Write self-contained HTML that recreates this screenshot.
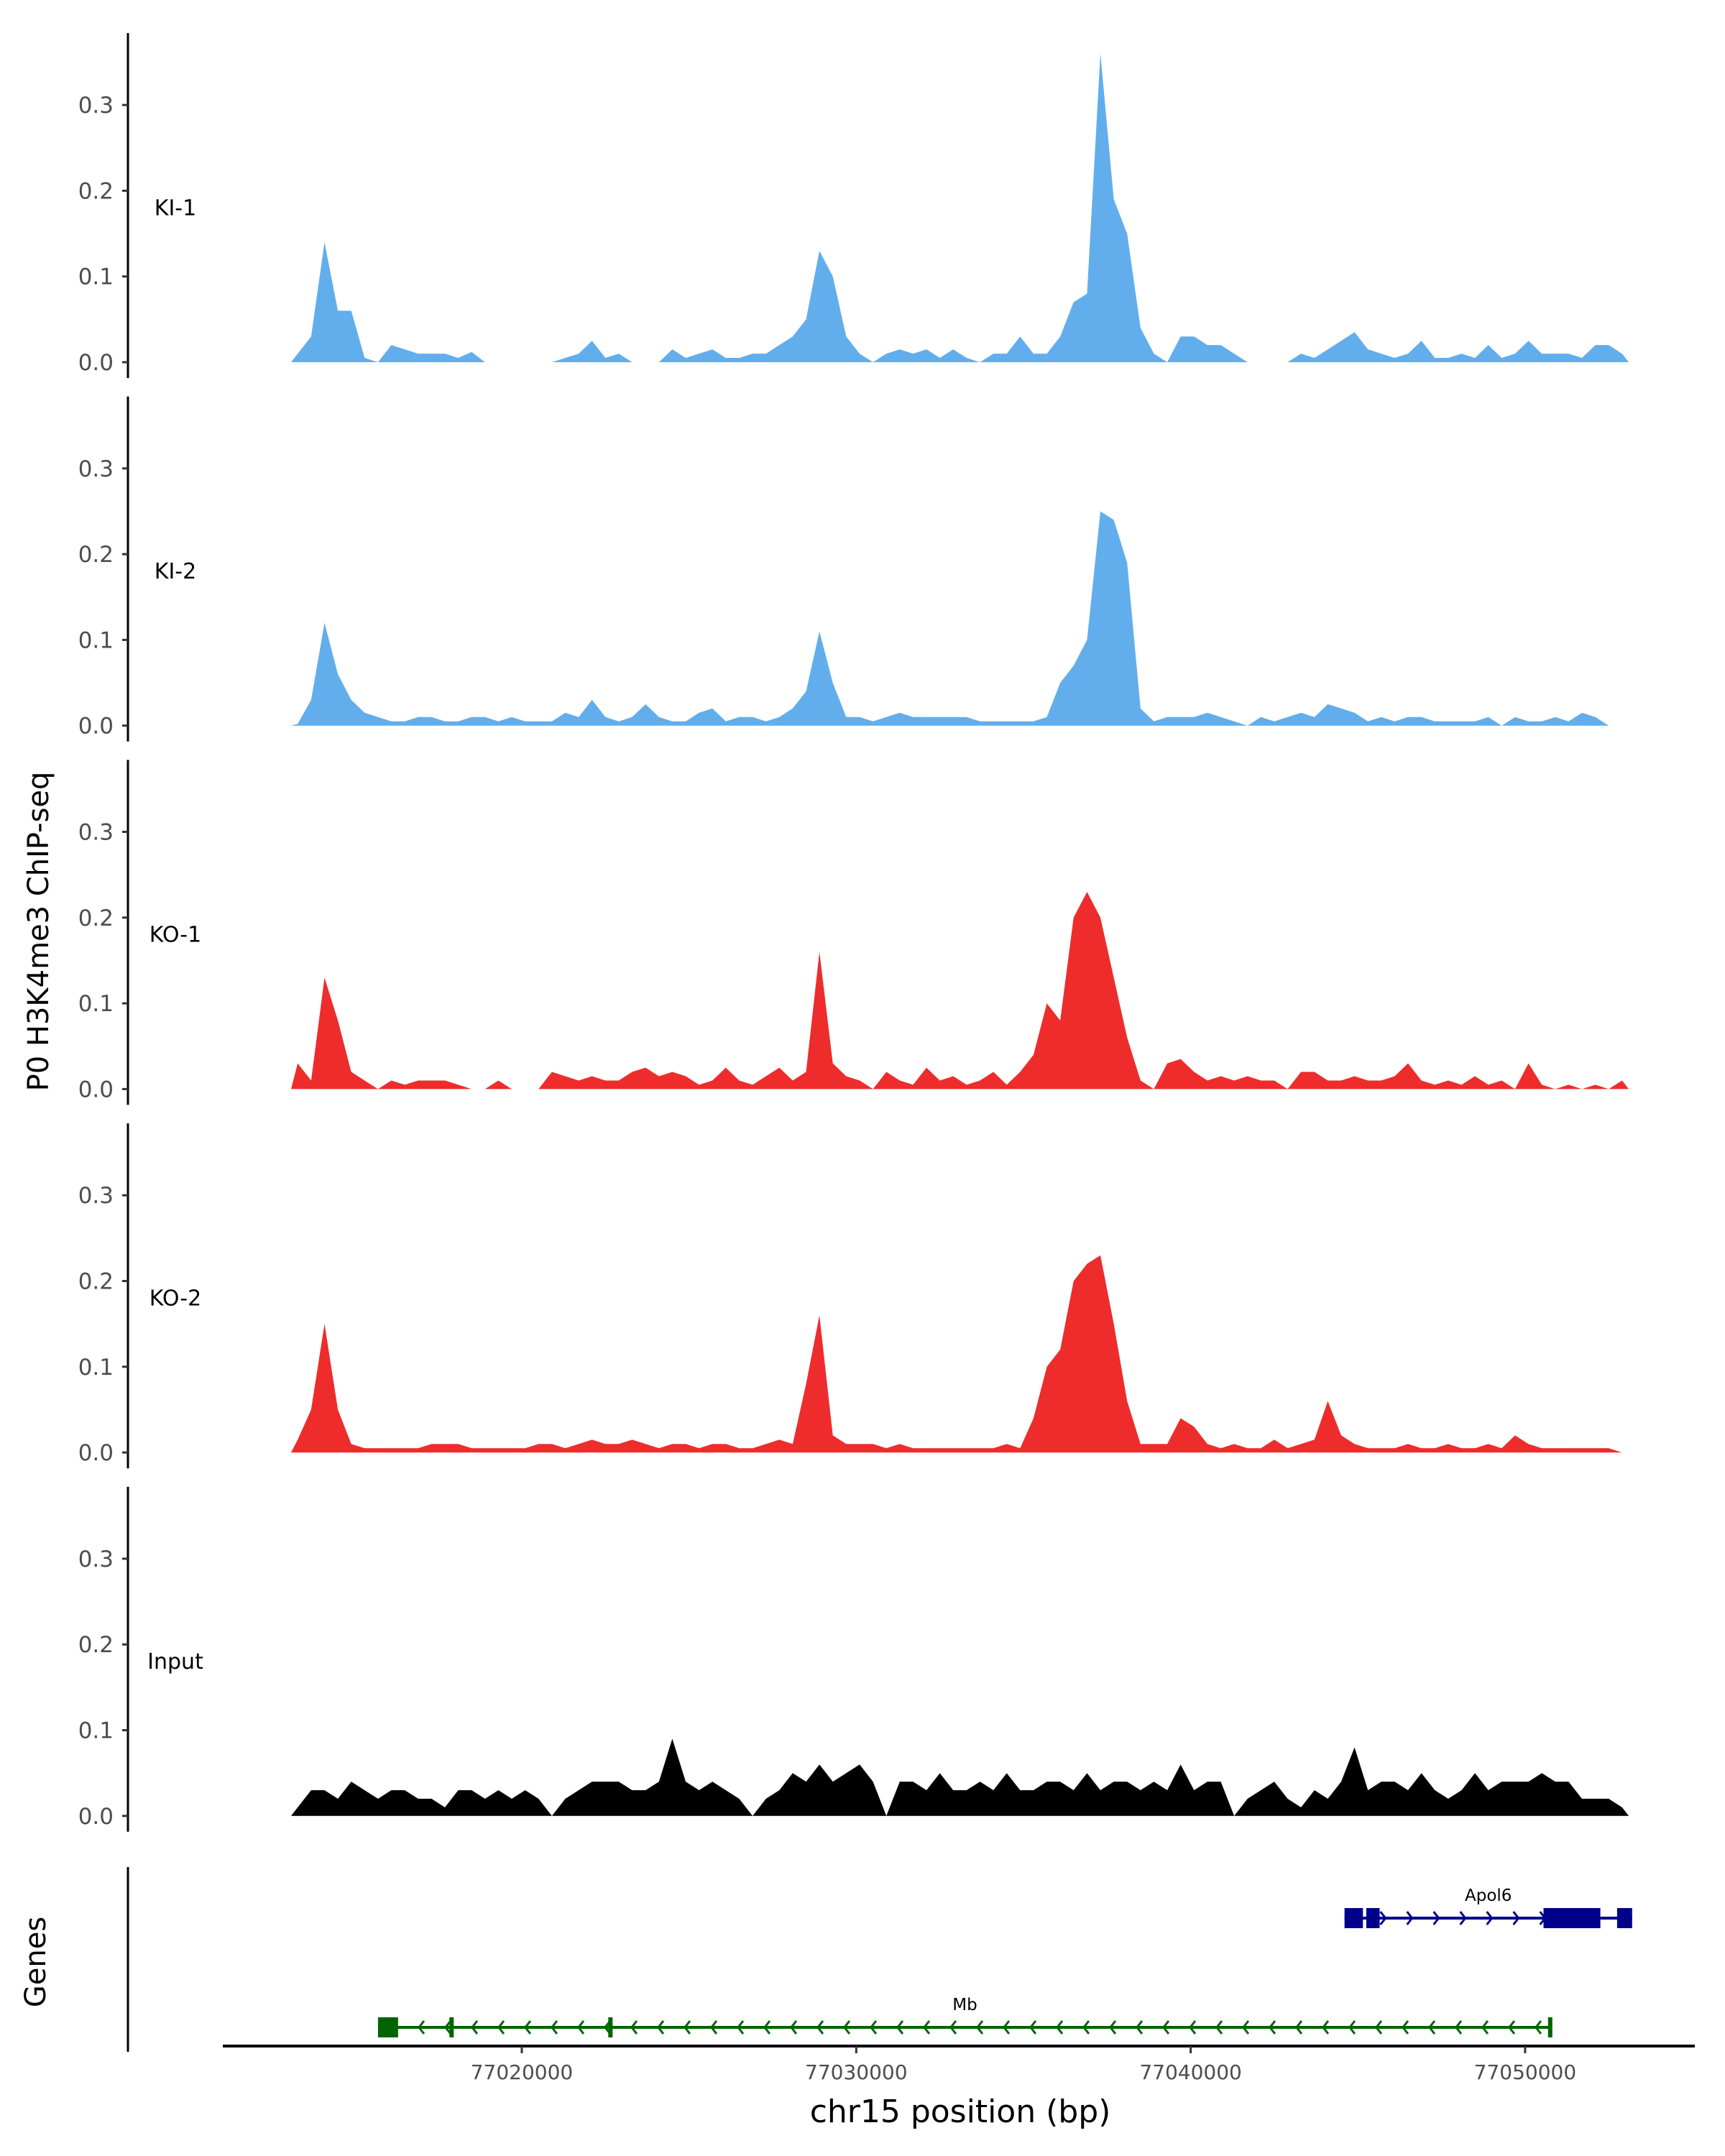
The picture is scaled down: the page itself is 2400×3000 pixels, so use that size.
<!DOCTYPE html>
<html><head><meta charset="utf-8"><style>
html,body{margin:0;padding:0;background:#fff;}
svg{display:block;font-family:"DejaVu Sans","Liberation Sans",sans-serif;}
</style></head><body>
<svg id="chart" width="2400" height="3000" viewBox="0 0 2400 3000" xmlns="http://www.w3.org/2000/svg">
<g id="tracks"></g>
<g id="genes"></g>
<text x="67" y="1296" transform="rotate(-90 67 1296)" text-anchor="middle" font-size="40" fill="#000">P0 H3K4me3 ChIP-seq</text>
<text x="63" y="2730" transform="rotate(-90 63 2730)" text-anchor="middle" font-size="40" fill="#000">Genes</text>
<text x="1336" y="2953" text-anchor="middle" font-size="44" fill="#000">chr15 position (bp)</text>
</svg>
<script>
const trackNames = ["KI-1","KI-2","KO-1","KO-2","Input"];
const trackColors = ["#62AEEC","#62AEEC","#EE2C2C","#EE2C2C","#000000"];
const binStart = 77013100;
const binSize = 400;
const yTicks = [0,0.1,0.2,0.3];
const yTickLabels = ["0.0","0.1","0.2","0.3"];
const xTicks = [77020000,77030000,77040000,77050000];
const xTickLabels = ["77020000","77030000","77040000","77050000"];
const ki1 = [0.01,0.03,0.14,0.06,0.06,0.005,0,0.02,0.015,0.01,0.01,0.01,0.005,0.012,0,0,0,0,0,0,0.005,0.01,0.025,0.005,0.01,0,0,0,0.015,0.005,0.01,0.015,0.005,0.005,0.01,0.01,0.02,0.03,0.05,0.13,0.1,0.03,0.01,0,0.01,0.015,0.01,0.015,0.005,0.015,0.005,0,0.01,0.01,0.03,0.01,0.01,0.03,0.07,0.08,0.36,0.19,0.15,0.04,0.01,0,0.03,0.03,0.02,0.02,0.01,0,0,0,0,0.01,0.005,0.015,0.025,0.035,0.015,0.01,0.005,0.01,0.025,0.005,0.005,0.01,0.005,0.02,0.005,0.01,0.025,0.01,0.01,0.01,0.005,0.02,0.02,0.01];
const ki2 = [0.002,0.03,0.12,0.06,0.03,0.015,0.01,0.005,0.005,0.01,0.01,0.005,0.005,0.01,0.01,0.005,0.01,0.005,0.005,0.005,0.015,0.01,0.03,0.01,0.005,0.01,0.025,0.01,0.005,0.005,0.015,0.02,0.005,0.01,0.01,0.005,0.01,0.02,0.04,0.11,0.05,0.01,0.01,0.005,0.01,0.015,0.01,0.01,0.01,0.01,0.01,0.005,0.005,0.005,0.005,0.005,0.01,0.05,0.07,0.1,0.25,0.24,0.19,0.02,0.005,0.01,0.01,0.01,0.015,0.01,0.005,0,0.01,0.005,0.01,0.015,0.01,0.025,0.02,0.015,0.005,0.01,0.005,0.01,0.01,0.005,0.005,0.005,0.005,0.01,0,0.01,0.005,0.005,0.01,0.005,0.015,0.01,0,0];
const ko1 = [0.03,0.01,0.13,0.08,0.02,0.01,0,0.01,0.005,0.01,0.01,0.01,0.005,0,0,0.01,0,0,0,0.02,0.015,0.01,0.015,0.01,0.01,0.02,0.025,0.015,0.02,0.015,0.005,0.01,0.025,0.01,0.005,0.015,0.025,0.01,0.02,0.16,0.03,0.015,0.01,0,0.02,0.01,0.005,0.025,0.01,0.015,0.005,0.01,0.02,0.005,0.02,0.04,0.1,0.08,0.2,0.23,0.2,0.13,0.06,0.01,0,0.03,0.035,0.02,0.01,0.015,0.01,0.015,0.01,0.01,0,0.02,0.02,0.01,0.01,0.015,0.01,0.01,0.015,0.03,0.01,0.005,0.01,0.005,0.015,0.005,0.01,0,0.03,0.005,0,0.005,0,0.005,0,0.01];
const ko2 = [0.015,0.05,0.15,0.05,0.01,0.005,0.005,0.005,0.005,0.005,0.01,0.01,0.01,0.005,0.005,0.005,0.005,0.005,0.01,0.01,0.005,0.01,0.015,0.01,0.01,0.015,0.01,0.005,0.01,0.01,0.005,0.01,0.01,0.005,0.005,0.01,0.015,0.01,0.08,0.16,0.02,0.01,0.01,0.01,0.005,0.01,0.005,0.005,0.005,0.005,0.005,0.005,0.005,0.01,0.005,0.04,0.1,0.12,0.2,0.22,0.23,0.15,0.06,0.01,0.01,0.01,0.04,0.03,0.01,0.005,0.01,0.005,0.005,0.015,0.005,0.01,0.015,0.06,0.02,0.01,0.005,0.005,0.005,0.01,0.005,0.005,0.01,0.005,0.005,0.01,0.005,0.02,0.01,0.005,0.005,0.005,0.005,0.005,0.005,0];
const inputSig = [0.01,0.03,0.03,0.02,0.04,0.03,0.02,0.03,0.03,0.02,0.02,0.01,0.03,0.03,0.02,0.03,0.02,0.03,0.02,0.0,0.02,0.03,0.04,0.04,0.04,0.03,0.03,0.04,0.09,0.04,0.03,0.04,0.03,0.02,0.0,0.02,0.03,0.05,0.04,0.06,0.04,0.05,0.06,0.04,0.0,0.04,0.04,0.03,0.05,0.03,0.03,0.04,0.03,0.05,0.03,0.03,0.04,0.04,0.03,0.05,0.03,0.04,0.04,0.03,0.04,0.03,0.06,0.03,0.04,0.04,0.0,0.02,0.03,0.04,0.02,0.01,0.03,0.02,0.04,0.08,0.03,0.04,0.04,0.03,0.05,0.03,0.02,0.03,0.05,0.03,0.04,0.04,0.04,0.05,0.04,0.04,0.02,0.02,0.02,0.01];
const signals = [ki1,ki2,ko1,ko2,inputSig];
const apol6Start = 77044600, apol6End = 77053200;
const apol6Exons = [[77044600,77045150],[77045250,77045650],[77050550,77052250],[77052750,77053200]];
const mbStart = 77015700, mbEnd = 77050800;
const mbExons = [[77015700,77016300]];
const mbMarks = [77017900,77022650,77050750];

const NS="http://www.w3.org/2000/svg";
function xs(bp){return 726+(bp-77020000)*0.04653;}
function base(k){return 504+505.7*k;}
function ys(k,v){return base(k)-v*1193;}
function mk(tag,attrs,parent){const e=document.createElementNS(NS,tag);for(const a in attrs)e.setAttribute(a,attrs[a]);parent.appendChild(e);return e;}
const tracks=document.getElementById('tracks');
signals.forEach((vals,k)=>{
  const g=mk('g',{},tracks);
  
  
  const b=base(k);
  const ax=mk('line',{x1:178,x2:178,y1:b-458,y2:b+22,stroke:'#000','stroke-width':3},g);
  
  
  yTicks.forEach((t,i)=>{
    const tk=mk('line',{x1:170,x2:178,y1:ys(k,t),y2:ys(k,t),stroke:'#333','stroke-width':3},g);
    
    
    const tl=mk('text',{x:158,y:ys(k,t)+11,'text-anchor':'end','font-size':31,fill:'#4d4d4d'},g);
    tl.textContent=yTickLabels[i];
    
    
  });
  const lab=mk('text',{x:244,y:ys(k,0.18)+10,'text-anchor':'middle','font-size':30,fill:'#000'},g);
  lab.textContent=trackNames[k];
  
  
  let d='M'+xs(binStart)+','+b;
  vals.forEach((v,i)=>{d+=' L'+xs(binStart+binSize*(i+0.5)).toFixed(1)+','+ys(k,v).toFixed(1);});
  d+=' L'+xs(binStart+binSize*vals.length)+','+b+' Z';
  const p=mk('path',{d:d,fill:trackColors[k]},g);
  
  
});
const genes=document.getElementById('genes');
const gax=mk('line',{x1:178,x2:178,y1:2598,y2:2855,stroke:'#000','stroke-width':3},genes);


const xax=mk('line',{x1:310,x2:2358,y1:2847,y2:2847,stroke:'#000','stroke-width':4},genes);


xTicks.forEach((t,i)=>{
  const tk=mk('line',{x1:xs(t),x2:xs(t),y1:2847,y2:2857,stroke:'#333','stroke-width':3},genes);
  
  
  const tl=mk('text',{x:xs(t),y:2893,'text-anchor':'middle','font-size':28,fill:'#4d4d4d'},genes);
  tl.textContent=xTickLabels[i];
  
  
});
function drawGene(name,s,e,exons,marks,y,col,dir){
  const g=mk('g',{},genes);
  
  
  mk('line',{x1:xs(s),x2:xs(e),y1:y,y2:y,stroke:col,'stroke-width':4},g);
  for(let x=xs(s)+20;x<xs(e)-10;x+=37){
    const dx=dir>0?-7:7;
    mk('polyline',{points:(x+dx)+','+(y-9)+' '+x+','+y+' '+(x+dx)+','+(y+9),fill:'none',stroke:col,'stroke-width':3},g);
  }
  exons.forEach(ex=>{mk('rect',{x:xs(ex[0]),y:y-14,width:xs(ex[1])-xs(ex[0]),height:28,fill:col},g);});
  marks.forEach(m=>{mk('rect',{x:xs(m)-3,y:y-14,width:6,height:28,fill:col},g);});
  const t=mk('text',{x:(xs(s)+xs(e))/2,y:y-24,'text-anchor':'middle','font-size':23,fill:'#000'},g);
  t.textContent=name;
  
  
}
drawGene('Apol6',apol6Start,apol6End,apol6Exons,[],2669,'#00008B',1);
drawGene('Mb',mbStart,mbEnd,mbExons,mbMarks,2821,'#006400',-1);
</script>
</body></html>
